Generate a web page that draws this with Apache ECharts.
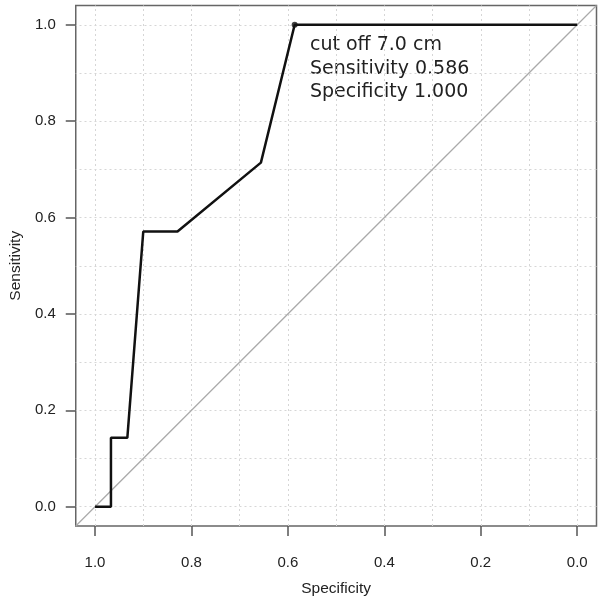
<!DOCTYPE html>
<html>
<head>
<meta charset="utf-8">
<script src="https://cdn.jsdelivr.net/npm/echarts@6/dist/echarts.min.js"></script>
<style>
  html, body { margin: 0; padding: 0; background: #fff; }
  #chart { width: 602px; height: 602px; }
</style>
</head>
<body>
<div id="chart"></div>
<script>
// ROC curve (specificity, sensitivity)
const specificity = [1.0, 0.967, 0.967, 0.933, 0.9, 0.829, 0.656, 0.586, 0.0];
const sensitivity = [0.0, 0.0, 0.143, 0.143, 0.571, 0.571, 0.714, 1.0, 1.0];
const cutoffPoint = [0.586, 1.0];
const tickValues = [0, 0.2, 0.4, 0.6, 0.8, 1.0];
const gridValues = [0, 0.1, 0.2, 0.3, 0.4, 0.5, 0.6, 0.7, 0.8, 0.9, 1.0];
const axisMin = -0.04;
const axisMax = 1.04;
const noteLines = ['cut off 7.0 cm', 'Sensitivity 0.586', 'Specificity 1.000'];

const chart = echarts.init(document.getElementById('chart'));

const tickFont = { fontFamily: 'Liberation Sans', fontSize: 15, color: '#222' };
const nameFont = { fontFamily: 'Liberation Sans', fontSize: 15.5, color: '#222' };
const gridLine = { color: '#d6d6d6', type: [2, 3], width: 1 };

const option = {
  animation: false,
  grid: {
    left: 73, top: 5.5, right: 5.5, bottom: 73,
    show: true, borderColor: '#666', borderWidth: 1.5, backgroundColor: '#fff'
  },
  xAxis: {
    type: 'value', inverse: true, min: axisMin, max: axisMax,
    name: 'Specificity', nameLocation: 'middle', nameGap: 55,
    nameTextStyle: nameFont,
    axisLine: { show: false, onZero: false },
    axisTick: { show: true, length: 10, customValues: tickValues, lineStyle: { color: '#555', width: 1.5 } },
    axisLabel: Object.assign({ margin: 29, customValues: tickValues, formatter: v => v.toFixed(1) }, tickFont),
    splitLine: { show: false }
  },
  yAxis: {
    type: 'value', min: axisMin, max: axisMax,
    name: 'Sensitivity', nameLocation: 'middle', nameGap: 51,
    nameTextStyle: nameFont,
    axisLine: { show: false, onZero: false },
    axisTick: { show: true, length: 10, customValues: tickValues, lineStyle: { color: '#555', width: 1.5 } },
    axisLabel: Object.assign({ margin: 20, customValues: tickValues, formatter: v => v.toFixed(1) }, tickFont),
    splitLine: { show: false }
  },
  series: [
    {
      // dotted background grid every 0.1
      type: 'line', data: [], silent: true, z: 0,
      markLine: {
        silent: true, symbol: 'none', label: { show: false }, lineStyle: gridLine, z: 0,
        data: gridValues.map(v => ({ xAxis: v })).concat(gridValues.map(v => ({ yAxis: v })))
      }
    },
    {
      // chance line
      type: 'line', silent: true, symbol: 'none', z: 3,
      data: [[axisMax, axisMin], [axisMin, axisMax]],
      lineStyle: { color: '#aaa', width: 1.3 }
    },
    {
      type: 'line', symbol: 'none', z: 5,
      data: specificity.map((s, i) => [s, sensitivity[i]]),
      lineStyle: { color: '#111', width: 2.5 }
    },
    {
      type: 'scatter', symbolSize: 6, z: 6,
      data: [cutoffPoint],
      itemStyle: { color: '#111' }
    }
  ],
  graphic: noteLines.map((t, i) => ({
    type: 'text', left: 310, top: 36 + i * 23.5,
    style: { text: t, fontFamily: 'DejaVu Sans', fontSize: 19, fill: '#222' }
  }))
};

chart.setOption(option);
</script>
</body>
</html>
